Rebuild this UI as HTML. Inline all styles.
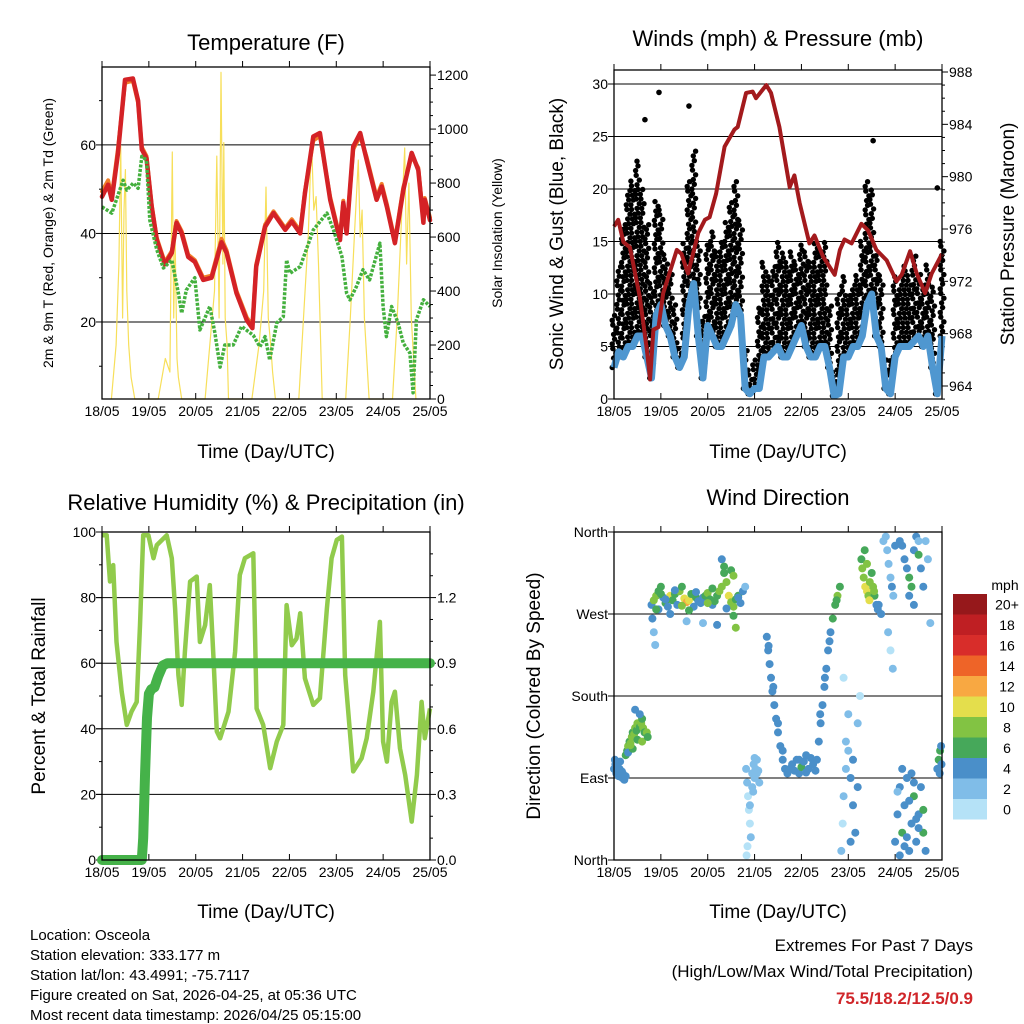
<!DOCTYPE html>
<html><head><meta charset="utf-8"><style>
html,body{margin:0;padding:0;background:#fff;}
svg{display:block;font-family:"Liberation Sans",sans-serif;}
</style></head><body>
<svg id="chart" width="1024" height="1024" viewBox="0 0 1024 1024" xmlns="http://www.w3.org/2000/svg">
<rect width="1024" height="1024" fill="#fff"/>
<g id="p1"></g>
<g id="p2"></g>
<g id="p3"></g>
<g id="p4"></g>
<g font-size="22" text-anchor="middle" fill="#000">
<text x="266" y="50">Temperature (F)</text>
<text x="778" y="46">Winds (mph) &amp; Pressure (mb)</text>
<text x="266" y="510">Relative Humidity (%) &amp; Precipitation (in)</text>
<text x="778" y="505">Wind Direction</text>
</g>
<g font-size="19" text-anchor="middle">
<text x="266" y="458">Time (Day/UTC)</text>
<text x="778" y="458">Time (Day/UTC)</text>
<text x="266" y="918">Time (Day/UTC)</text>
<text x="778" y="918">Time (Day/UTC)</text>
<text transform="translate(53,233) rotate(-90)" font-size="14">2m &amp; 9m T (Red, Orange) &amp; 2m Td (Green)</text>
<text transform="translate(502,233) rotate(-90)" font-size="14">Solar Insolation (Yellow)</text>
<text transform="translate(563,234) rotate(-90)">Sonic Wind &amp; Gust (Blue, Black)</text>
<text transform="translate(1014,234) rotate(-90)">Station Pressure (Maroon)</text>
<text transform="translate(45,696) rotate(-90)">Percent &amp; Total Rainfall</text>
<text transform="translate(540,696) rotate(-90)">Direction (Colored By Speed)</text>
</g>
<g font-size="15">
<text x="30" y="940">Location: Osceola</text>
<text x="30" y="960">Station elevation: 333.177 m</text>
<text x="30" y="980">Station lat/lon: 43.4991; -75.7117</text>
<text x="30" y="1000">Figure created on Sat, 2026-04-25, at 05:36 UTC</text>
<text x="30" y="1020">Most recent data timestamp: 2026/04/25 05:15:00</text>
</g>
<g text-anchor="end" font-size="17">
<text x="973" y="951">Extremes For Past 7 Days</text>
<text x="973" y="977">(High/Low/Max Wind/Total Precipitation)</text>
<text x="973" y="1004" fill="#d0262a" font-weight="bold">75.5/18.2/12.5/0.9</text>
</g>
<g id="cbar"></g>
</svg>
<script>
// ---------- data ----------
const dayLabels=["18/05","19/05","20/05","21/05","22/05","23/05","24/05","25/05"];
// Temperature
const tDays=[0,0.13,0.21,0.34,0.49,0.66,0.77,0.85,0.95,1.06,1.17,1.34,1.49,1.59,1.70,1.84,1.98,2.16,2.34,2.55,2.66,2.87,3.09,3.21,3.29,3.48,3.66,3.91,4.05,4.23,4.33,4.51,4.65,4.87,5.08,5.15,5.22,5.36,5.51,5.65,5.86,5.97,6.08,6.25,6.43,6.61,6.75,6.86,6.89,7.0];
const tempRed=[48.3,51,47.6,58,74.7,75,70,59,57,46,38.5,33,35.6,42.4,40,34.7,33.6,29.5,30,38,35.6,26.5,20.4,18.6,32.5,41.5,44.6,40.8,42.7,40,49,61.9,62.7,47.6,38.5,46.9,40,59.6,62.7,56.6,47.6,50.6,46,37.8,49.8,58.2,54.3,42.4,47.6,43];
const tempOrange=[49.5,52,48.5,59,74,74.5,69.5,59.5,57.5,46.5,39,33.5,36,42.8,40.5,35.2,34,30,30.5,38.8,36.2,27,21,19.2,33,42,45,41.2,43.2,40.5,49.5,61,62,48.2,39,47.4,40.6,59,62,57.2,48.2,51.2,46.6,38.4,50.4,57.5,54.8,43,48,43.6];
const tdDays=[0,0.21,0.45,0.53,0.67,0.77,0.85,0.95,1.02,1.17,1.31,1.49,1.63,1.70,1.80,1.98,2.09,2.30,2.41,2.52,2.62,2.80,2.98,3.23,3.37,3.48,3.58,3.73,3.87,3.94,4.01,4.23,4.51,4.80,4.94,5.12,5.22,5.29,5.43,5.57,5.71,5.93,6.00,6.07,6.18,6.32,6.43,6.57,6.64,6.71,6.86,7.0];
const dewGreen=[46,44.6,52,49.8,51.4,50.2,57.4,56.6,43,36.3,32.2,34,26.5,22,27.2,30,18.2,23.5,17.5,9.8,14.8,14.8,19,17,14.4,16.7,11.4,19.8,21.2,34,31,32.5,40.8,44.6,40.8,34.8,26.5,25,28,31.8,29.5,37.8,23.5,16.7,23.5,19.8,15.2,13,4,20.5,25,23.5];
const solDays=[0.2,0.3,0.36,0.4,0.44,0.47,0.5,0.53,0.57,0.62,0.7,1.2,1.35,1.45,1.5,1.53,1.56,1.6,1.63,1.7,2.2,2.3,2.4,2.45,2.5,2.54,2.58,2.6,2.63,2.67,2.7,3.2,3.35,3.45,3.5,3.55,3.6,3.64,3.7,4.2,4.3,4.4,4.47,4.52,4.57,4.62,4.7,5.2,5.3,5.4,5.47,5.51,5.55,5.6,5.7,6.2,6.3,6.4,6.46,6.5,6.55,6.6,6.7];
const solar=[0,200,500,940,300,700,850,400,200,80,0,0,150,100,915,300,600,150,80,0,0,200,400,900,300,1210,500,950,300,200,0,0,200,400,785,300,200,100,0,0,300,600,960,700,750,500,0,0,300,650,885,600,700,300,0,0,300,700,930,500,800,300,0];
// Winds
const wDays=[0,0.1,0.2,0.3,0.4,0.5,0.6,0.7,0.8,0.9,1.0,1.1,1.2,1.3,1.4,1.5,1.6,1.7,1.8,1.9,2.0,2.1,2.2,2.3,2.4,2.5,2.6,2.7,2.8,2.9,3.0,3.1,3.2,3.3,3.4,3.5,3.6,3.7,3.8,3.9,4.0,4.1,4.2,4.3,4.4,4.5,4.6,4.7,4.8,4.9,5.0,5.1,5.2,5.3,5.4,5.5,5.6,5.7,5.8,5.9,6.0,6.1,6.2,6.3,6.4,6.5,6.6,6.7,6.8,6.9,7.0];
const windSpd=[3,4.5,4,5,5,6,6,4,2,8,9,7,6,4,3,4,9,11,6,2,7,6,5,5,6,7,9,8,1,0.5,1,1,4,4,4.5,5,4,4,5,6,7,5,4,4,5,5,3,0.3,0.5,4,4,5,5,6,9,10,6,5,1,0.5,4,5,5,5,5.5,6,5,6,3,0.5,6];
const gustHi=[8,13,17,20,21,23,20,17,11,19,18,14,12,9,5,15,21,24,15,8,15,16,14,15,17,19,21,17,5,3,4,9,13,12,13,15,14,13,14,13,15,14,13,15,14,15,9,3,10,12,10,11,12,15,21,20,14,12,4,4,12,11,13,12,14,12,11,13,11,3,15];
const gustOutDays=[0.66,0.96,1.6,5.53,6.9];
const gustOut=[26.6,29.2,27.9,24.6,20.1];
const pDays=[0,0.09,0.20,0.34,0.55,0.70,0.77,0.84,0.95,1.05,1.34,1.44,1.58,1.80,1.94,2.04,2.18,2.36,2.57,2.64,2.82,2.96,3.03,3.25,3.35,3.53,3.75,3.85,3.96,4.17,4.28,4.46,4.71,4.82,4.92,5.07,5.28,5.42,5.60,5.82,6.03,6.14,6.32,6.46,6.64,6.78,7.0];
const pressure=[976.2,976.7,975,974.6,970.8,966.8,964.5,968.3,968.5,971.1,974.4,974.1,972.6,975.7,976.7,976.9,978.7,982.3,983.6,983.8,986.4,986.5,986,987,986.4,983.8,979.2,980.1,978,974.9,975.5,973.9,972.5,974.4,975.2,974.9,976.4,975.9,974.4,973.6,972,972.5,974.3,972.6,971.1,972.6,974.1];
// Humidity & precip
const rhDays=[0,0.1,0.17,0.24,0.31,0.42,0.53,0.63,0.74,0.81,0.88,0.99,1.10,1.17,1.38,1.49,1.56,1.63,1.70,1.77,1.88,2.02,2.09,2.20,2.30,2.38,2.45,2.52,2.70,2.84,2.94,3.05,3.23,3.30,3.44,3.59,3.73,3.87,3.94,4.05,4.15,4.23,4.33,4.51,4.65,4.80,4.90,5.01,5.12,5.19,5.36,5.54,5.65,5.79,5.93,6.00,6.08,6.18,6.25,6.36,6.47,6.61,6.72,6.82,6.89,7.0];
const rh=[99,99,84.9,89.9,66.5,51.3,41.2,45.2,48.2,71.6,99,99,92,96,99,92,76.7,56.4,47.3,63.5,84.9,86.4,66.5,71.6,83.8,61.5,39.2,37.1,45.2,63.5,86.9,92,93.5,46.2,41.2,28,36.1,41.2,77.7,65.5,67.5,75.2,55.4,47.3,49.3,76.7,92,97.6,98.6,56.4,27,31,37.1,51.3,72.6,36.1,30,48.2,51.3,34,25.9,11.7,25.9,48.2,37.1,46.2];
const prDays=[0,0.85,0.88,0.92,0.96,1.0,1.05,1.12,1.2,1.3,1.4,7];
const precip=[0,0,0.1,0.4,0.65,0.76,0.78,0.79,0.84,0.89,0.9,0.9];
// Wind direction
const dirDay=[0,0.03,0.05,0.08,0.1,0.12,0.15,0.18,0.2,0.22,0.25,0.02,0.07,0.13,0.17,
0.25,0.28,0.3,0.33,0.35,0.38,0.4,0.43,0.45,0.48,0.5,0.52,0.55,0.58,0.6,0.62,0.65,0.3,0.4,0.5,0.55,0.6,0.7,0.72,0.45,0.35,
0.80,0.85,0.9,0.95,1.0,1.05,1.1,1.15,1.2,1.25,1.3,1.35,1.4,1.45,1.5,1.55,1.6,1.65,1.7,1.75,1.8,1.85,1.9,1.95,2.0,2.05,2.1,2.15,2.2,2.25,2.3,2.35,2.4,2.45,2.5,2.55,2.6,2.65,2.7,2.75,2.8,
0.82,0.85,0.88,1.55,1.9,2.2,2.55,2.6,1.2,0.95,2.3,2.35,2.5,2.55,0.9,1.0,1.1,1.3,1.45,1.6,1.75,2.0,2.1,2.4,2.65,
2.82,2.84,2.86,2.88,2.9,2.92,2.95,2.98,3.0,3.02,3.05,3.08,3.1,2.85,2.9,2.95,3.0,3.05,2.83,2.97,
3.26,3.29,3.32,3.35,3.38,3.42,3.46,3.5,3.55,3.6,3.65,3.7,3.75,3.8,3.85,3.9,3.95,4.0,4.05,4.1,4.15,4.2,4.25,4.3,
4.33,4.37,4.41,4.45,4.49,4.53,4.57,4.62,4.67,4.72,4.77,4.82,3.3,3.4,3.5,3.6,3.95,4.1,4.4,4.5,4.6,4.75,
4.85,4.88,4.9,4.95,5.0,5.05,5.1,5.15,5.2,5.25,4.9,5.0,5.1,5.2,4.95,5.05,
5.28,5.3,5.33,5.36,5.4,5.43,5.46,5.5,5.53,5.56,5.6,5.63,5.35,5.45,5.55,5.65,5.7,5.4,
5.8,5.83,5.86,5.9,5.93,5.96,5.85,5.9,5.95,5.75,6.0,
6.1,6.15,6.2,6.25,6.3,6.35,6.4,6.45,6.5,6.55,6.6,6.3,6.4,6.5,6.65,6.7,6.75,
6.0,6.05,6.1,6.15,6.2,6.25,6.3,6.35,6.4,6.45,6.5,6.55,6.6,6.65,6.1,6.2,6.3,6.4,6.5,6.6,6.05,6.25,6.45,6.35,6.15,
6.9,6.93,6.96,6.99,6.95,6.98];
const dirDeg=[100,105,95,98,92,100,96,90,94,88,92,110,102,108,97,
115,120,125,130,128,135,140,138,145,142,150,148,146,150,155,145,140,118,122,132,160,130,140,135,165,126,
280,285,290,295,300,288,282,278,290,285,292,280,295,300,287,283,285,292,278,288,284,282,288,290,293,286,280,284,290,295,300,315,305,290,283,278,286,290,282,295,300,
265,250,236,262,260,258,268,255,270,275,330,322,318,312,275,292,286,296,279,274,294,282,298,276,288,
100,85,70,55,40,25,95,105,90,100,110,98,85,15,60,80,112,95,5,75,
245,230,215,200,185,170,155,140,125,110,100,95,100,105,98,110,95,102,108,96,100,112,105,98,
110,130,150,170,190,210,230,250,265,280,290,300,235,190,150,120,110,115,160,200,240,285,
10,40,70,100,120,90,60,30,150,180,200,160,110,80,130,20,
330,320,310,300,295,290,305,315,300,290,280,275,340,285,295,280,270,325,
355,340,325,310,300,290,250,230,210,350,345,
350,345,330,320,310,300,340,355,335,320,300,290,280,350,350,330,260,
20,50,80,30,60,90,10,40,70,20,50,80,30,10,5,15,65,85,35,55,75,25,45,95,100,
100,110,120,105,95,125];
const dirSpd=[4,3,4,4,4,3,4,4,3,4,3,4,4,3,4,
6,6,7,6,8,7,6,8,7,6,7,8,6,7,6,8,6,4,5,6,4,7,8,6,4,7,
4,7,8,6,6,4,5,4,9,6,6,4,8,6,10,12,10,6,4,5,4,3,4,6,7,6,4,5,6,8,7,6,8,10,8,7,6,5,4,3,2,
3,2,1,2,2,3,6,7,3,3,4,6,6,7,5,6,4,3,7,6,4,7,5,4,3,
1,1,0,0,0,1,2,2,2,2,1,2,2,0,1,2,2,1,0,2,
4,4,3,4,4,3,4,4,3,4,4,3,4,3,4,4,3,6,4,3,4,3,4,4,
4,3,4,4,3,4,4,4,5,6,7,6,3,4,4,3,4,4,3,4,4,6,
1,0,1,2,2,3,3,4,1,0,0,2,4,3,1,4,
6,7,8,9,10,8,7,6,8,6,4,4,5,9,8,4,3,7,
1,2,2,1,3,2,1,0,1,1,4,
4,3,4,4,5,6,4,4,6,4,3,4,3,2,1,1,1,
4,3,4,5,4,3,4,4,6,4,3,4,5,4,3,4,4,3,4,6,2,4,3,4,4,
4,5,6,4,4,3];
const cbLabels=["0","2","4","6","8","10","12","14","16","18","20+"];
const cbColors=["#b5e2f7","#80bde8","#4a8fc9","#46a85a","#82c343","#e4de4c","#f8a842","#ee6428","#d82d2a","#bf1f23","#96181b"];

// ---------- helpers ----------
const NS="http://www.w3.org/2000/svg";
function mk(parent,tag,attrs){const e=document.createElementNS(NS,tag);for(const k in attrs)e.setAttribute(k,attrs[k]);parent.appendChild(e);return e;}
function scale(d0,d1,r0,r1){return v=>r0+(v-d0)*(r1-r0)/(d1-d0);}
function pathD(xs,ys,sx,sy){return xs.map((x,i)=>(i?'L':'M')+sx(x).toFixed(1)+','+sy(ys[i]).toFixed(1)).join('');}

function frame(g,L,T,R,B,xs,nm){
  for(let i=0;i<dayLabels.length;i++){
    const x=xs(i);
    const t=mk(g,'line',{x1:x,y1:B,x2:x,y2:B-6,stroke:'#000','stroke-width':1});
    
    const t2=mk(g,'line',{x1:x,y1:T,x2:x,y2:T-6,stroke:'#000','stroke-width':1});
    
    const tx=mk(g,'text',{x:x,y:B+17,'font-size':14,'text-anchor':'middle'});tx.textContent=dayLabels[i];
    
  }
}
function border(g,L,T,R,B,nm){
  const r=mk(g,'rect',{x:L,y:T,width:R-L,height:B-T,fill:'none',stroke:'#000','stroke-width':1.3});
  
}
function yTicks(g,vals,labels,sy,x,side,nm,grid,L,R){
  vals.forEach((v,i)=>{
    const y=sy(v);
    if(grid){const gl=mk(g,'line',{x1:L,y1:y,x2:R,y2:y,stroke:'#000','stroke-width':1});
      }
    const t=mk(g,'line',{x1:x,y1:y,x2:x+(side<0?-6:6),y2:y,stroke:'#000'});
    
    if(labels){const tx=mk(g,'text',{x:side<0?x-6:x+7,y:y+5,'font-size':14,'text-anchor':side<0?'end':'start'});
      tx.textContent=labels[i];}
  });
}
function minor(g,vals,sy,x,side,nm){vals.forEach(v=>{const y=sy(v);const t=mk(g,'line',{x1:x,y1:y,x2:x+(side<0?-3:3),y2:y,stroke:'#000'});
  });}

// ---------- Panel 1 ----------
(function(){
  const g=document.getElementById('p1');const L=102,T=67,R=430,B=399;
  const sx=scale(0,7,L,R), sy=scale(2.6,77.6,B,T), sy2=scale(0,1230,B,T);
  yTicks(g,[20,40,60],["20","40","60"],sy,L,-1,'p1-y',true,L,R);
  minor(g,[10,30,50,70],sy,L,-1,'p1-y');
  yTicks(g,[0,200,400,600,800,1000,1200],["0","200","400","600","800","1000","1200"],sy2,R,1,'p1-y2',false);
  const mv=[];for(let v=50;v<1230;v+=50)if(v%200)mv.push(v);minor(g,mv,sy2,R,1,'p1-y2');
  const s=mk(g,'path',{d:pathD(solDays,solar,sx,sy2),fill:'none',stroke:'#f7df5a','stroke-width':1.2,'stroke-linejoin':'round'});
  
  const o=mk(g,'path',{d:pathD(tDays,tempOrange,sx,sy),fill:'none',stroke:'#f07f2a','stroke-width':4,'stroke-linejoin':'round','stroke-linecap':'round'});
  
  const r=mk(g,'path',{d:pathD(tDays,tempRed,sx,sy),fill:'none',stroke:'#d42226','stroke-width':4.5,'stroke-linejoin':'round','stroke-linecap':'round'});
  
  const gr=mk(g,'path',{d:pathD(tdDays,dewGreen,sx,sy),fill:'none',stroke:'#44b03e','stroke-width':3.5,'stroke-dasharray':'3 1.5','stroke-linejoin':'round'});
  
  border(g,L,T,R,B,'p1');frame(g,L,T,R,B,i=>sx(i),'p1');
})();

// ---------- Panel 2 ----------
(function(){
  const g=document.getElementById('p2');const L=614,T=70,R=942,B=399;
  const sx=scale(0,7,L,R), sy=scale(0,30,B,84), sy2=scale(964,988,386,72);
  yTicks(g,[5,10,15,20,25,30],null,sy,L,-1,'p2-y',true,L,R);
  yTicks(g,[0,5,10,15,20,25,30],["0","5","10","15","20","25","30"],sy,L,-1,'p2-y',false);
  yTicks(g,[964,968,972,976,980,984,988],["964","968","972","976","980","984","988"],sy2,R,1,'p2-y2',false);
  const mv=[];for(let v=963;v<=988;v++)if(v%4)mv.push(v);minor(g,mv,sy2,R,1,'p2-y2');
  const gg=mk(g,'g',{fill:'#000'});
  const offs=[-1.8,0.6,-0.4,1.9,-1.2];
  wDays.forEach((d,i)=>{
    const lo=windSpd[i], hi=gustHi[i];
    for(let k=0,v=lo;v<=hi;v+=0.45,k++){
      const c=mk(gg,'circle',{cx:(sx(d)+offs[k%5]).toFixed(1),cy:sy(v).toFixed(1),r:2.7});
      
    }
  });
  gustOutDays.forEach((d,i)=>{const c=mk(gg,'circle',{cx:sx(d),cy:sy(gustOut[i]),r:2.8});
    });
  const w=mk(g,'path',{d:pathD(wDays,windSpd,sx,sy),fill:'none',stroke:'#4f97d0','stroke-width':7,'stroke-linejoin':'round'});
  
  const p=mk(g,'path',{d:pathD(pDays,pressure,sx,sy2),fill:'none',stroke:'#a31a1d','stroke-width':4,'stroke-linejoin':'round'});
  
  border(g,L,T,R,B,'p2');frame(g,L,T,R,B,i=>sx(i),'p2');
})();

// ---------- Panel 3 ----------
(function(){
  const g=document.getElementById('p3');const L=102,T=532,R=430,B=860;
  const sx=scale(0,7,L,R), sy=scale(0,100,B,T), sy2=scale(0,1.5,B,532);
  yTicks(g,[20,40,60,80],null,sy,L,-1,'p3-y',true,L,R);
  yTicks(g,[0,20,40,60,80,100],["0","20","40","60","80","100"],sy,L,-1,'p3-y',false);
  minor(g,[10,30,50,70,90],sy,L,-1,'p3-y');
  yTicks(g,[0,0.3,0.6,0.9,1.2],["0.0","0.3","0.6","0.9","1.2"],sy2,R,1,'p3-y2',false);
  minor(g,[0.1,0.2,0.4,0.5,0.7,0.8,1.0,1.1,1.3,1.4],sy2,R,1,'p3-y2');
  const h=mk(g,'path',{d:pathD(rhDays,rh,sx,sy),fill:'none',stroke:'#91cb4c','stroke-width':4.5,'stroke-linejoin':'round'});
  
  const p=mk(g,'path',{d:pathD(prDays,precip,sx,sy2),fill:'none',stroke:'#45b249','stroke-width':10,'stroke-linejoin':'round','stroke-linecap':'round'});
  
  border(g,L,T,R,B,'p3');frame(g,L,T,R,B,i=>sx(i),'p3');
})();

// ---------- Panel 4 ----------
(function(){
  const g=document.getElementById('p4');const L=614,T=532,R=942,B=860;
  const sx=scale(0,7,L,R), sy=scale(0,360,B,T);
  yTicks(g,[90,180,270],null,sy,L,-1,'p4-y',true,L,R);
  yTicks(g,[0,90,180,270,360],["North","East","South","West","North"],sy,L,-1,'p4-y',false);
  const dg=mk(g,'g',{});
  dirDay.forEach((d,i)=>{
    const ci=Math.min(10,Math.round(dirSpd[i]/2));
    const c=mk(dg,'circle',{cx:sx(d).toFixed(1),cy:sy(dirDeg[i]).toFixed(1),r:4,fill:cbColors[ci]});
    
  });
  border(g,L,T,R,B,'p4');frame(g,L,T,R,B,i=>sx(i),'p4');
})();

// ---------- Colorbar ----------
(function(){
  const g=document.getElementById('cbar');const x=953,w=34,top=594,h=20.5;
  const t=mk(g,'text',{x:1005,y:590,'font-size':14,'text-anchor':'middle'});t.textContent='mph';
  
  for(let i=0;i<cbColors.length;i++){
    const k=cbColors.length-1-i;const y=top+i*h;
    const r=mk(g,'rect',{x:x,y:y,width:w,height:h,fill:cbColors[k]});
    
    const tx=mk(g,'text',{x:1007,y:y+h/2+5,'font-size':14,'text-anchor':'middle'});tx.textContent=cbLabels[k];
    
  }
})();
</script>
</body></html>
